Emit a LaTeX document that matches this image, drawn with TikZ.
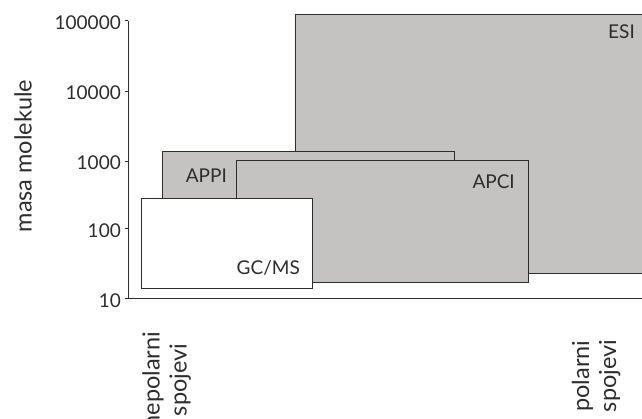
\documentclass[tikz,border=0pt]{standalone}
\usepackage{fontspec}
\setmainfont{Lato}
\usepackage{tikz}
\usetikzlibrary{calc}
\definecolor{boxgray}{RGB}{196,195,193}
\definecolor{edgegray}{RGB}{45,45,45}
\tikzset{
  method/.style={fill=boxgray,draw=edgegray,line width=1pt},
  methodlabel/.style={anchor=east,inner sep=0pt,text=edgegray},
  axislabel/.style={rotate=90,align=center,text=edgegray,inner sep=0pt,
    font=\fontsize{23.5}{27}\selectfont},
}
\begin{document}
\begin{tikzpicture}[x=1pt,y=-1pt,font=\fontsize{19}{27}\selectfont]
  \useasboundingbox (0,0) rectangle (642,419);
  % ranges of the ion sources
  \draw[method] (295.3,14.7) rectangle (660,273.3);
  \draw[method] (162,152) rectangle (454,270);
  \draw[method] (236,160.7) rectangle (528,283);
  \draw[fill=white,draw=edgegray,line width=1pt] (141.7,198.3) rectangle (312.7,288.3);
  \node[methodlabel] (esi) at (635,32) {ESI};
  \node[methodlabel] (appi) at (227,176) {APPI};
  \node[methodlabel] (apci) at (515,182) {APCI};
  \node[methodlabel] (gcms) at (300,268) {GC/MS};
  % axes
  \coordinate (origin) at (128,298.7);
  \coordinate (ytop) at (128,20.7);
  \coordinate (xend) at (650,298.7);
  \draw[edgegray,line width=1pt] (ytop) -- (origin) -- (xend);
  \foreach \v/\y in {10/298.7,100/228.7,1000/161.3,10000/91.3,100000/20.7}{
    \draw[edgegray,line width=1pt] (124.5,\y) -- (128,\y);
    \node[anchor=east,inner sep=0pt,text=edgegray] (tick\v) at (121,\y+1.5) {\v};
  }
  \node[axislabel] (ylabel) at (23,156) {masa molekule};
  \node[axislabel] (nonpolar) at (166.5,380) {nepolarni\\spojevi};
  \node[axislabel] (polar) at (596,376) {polarni\\spojevi};
\end{tikzpicture}
\end{document}
